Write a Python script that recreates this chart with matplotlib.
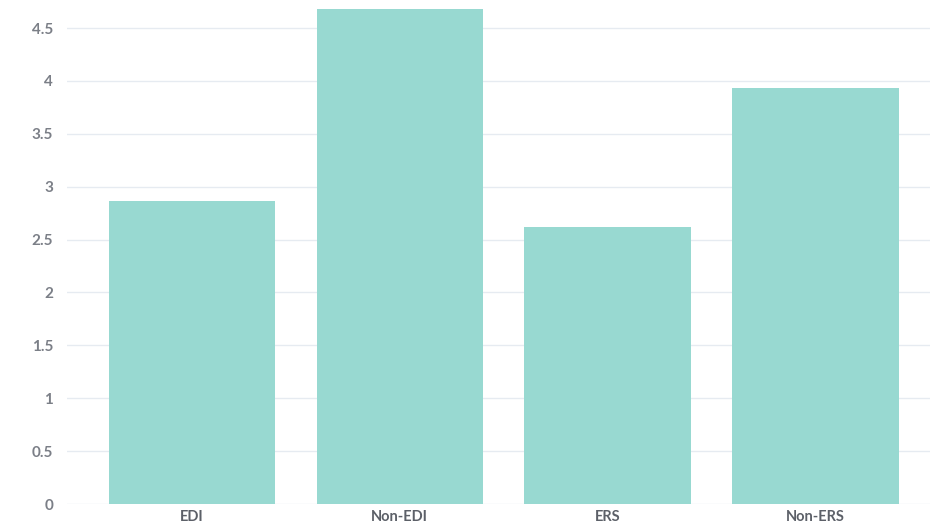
import matplotlib
matplotlib.use("Agg")
import matplotlib.pyplot as plt

categories = ["EDI", "Non-EDI", "ERS", "Non-ERS"]
values = [2.86, 4.68, 2.62, 3.93]
yticks = [0, 0.5, 1, 1.5, 2, 2.5, 3, 3.5, 4, 4.5]
ytick_labels = ["0", "0.5", "1", "1.5", "2", "2.5", "3", "3.5", "4", "4.5"]

plt.rcParams['font.family'] = ['Lato', 'DejaVu Sans']

fig = plt.figure(figsize=(9.3, 5.29), dpi=100)
ax = fig.add_axes([67/930, 25/529, 1 - 67/930, 498/529])

x = list(range(len(categories)))
ax.bar(x, values, width=0.8, color="#98d9d1", zorder=2)

ax.set_xlim(-0.6, 3.55)
ax.set_ylim(0, 4.708)
ax.set_yticks(yticks)
ax.set_yticklabels(ytick_labels)
ax.set_xticks(x)
ax.set_xticklabels(categories)

ax.grid(axis="y", color="#e6ebf1", linewidth=1, zorder=0)
for s in ax.spines.values():
    s.set_visible(False)
ax.tick_params(axis="both", length=0)
ax.tick_params(axis="y", pad=10, labelsize=11, labelcolor="#7b7f87")
ax.tick_params(axis="x", pad=4, labelsize=10.5, labelcolor="#5c6068")
for lab in ax.get_yticklabels() + ax.get_xticklabels():
    lab.set_fontweight("bold")

fig.savefig("out.png", dpi=100)
